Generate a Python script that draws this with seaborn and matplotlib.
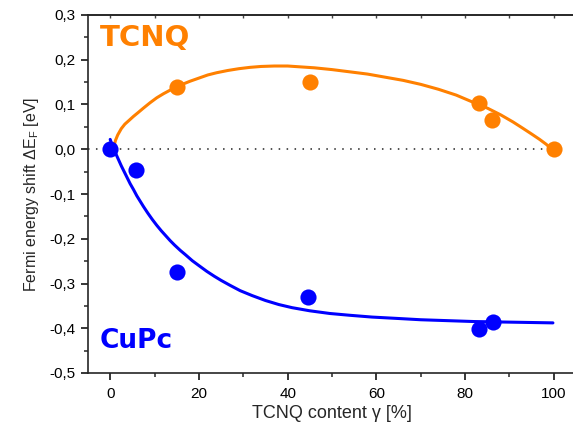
import matplotlib
matplotlib.use("Agg")
import matplotlib.pyplot as plt
import seaborn as sns
from matplotlib.ticker import FuncFormatter, MultipleLocator, NullFormatter

# measured points
tcnq_x = [15, 45, 83.2, 86.1, 100]
tcnq_y = [0.139, 0.151, 0.104, 0.065, 0.0]
cupc_x = [0, 5.8, 15, 44.7, 83.2, 86.2]
cupc_y = [0.0, -0.046, -0.275, -0.331, -0.402, -0.387]

# fit curves
tcnq_fit_x = [0.8, 1.2, 1.7, 2.5, 3.3, 4.2, 5.2, 6.3, 7.5, 9, 10.5, 12, 13.5, 15, 16.5,
              18, 20, 22, 24, 26.5, 29, 31.5, 34, 37, 40, 43, 46, 50, 54, 58, 62, 66,
              70, 74, 78, 81.8, 85, 88, 90.8, 93, 95, 96.8, 98.3, 99.5]
tcnq_fit_y = [0.005, 0.020, 0.032, 0.046, 0.056, 0.064, 0.073, 0.082, 0.092, 0.104,
              0.115, 0.124, 0.132, 0.139, 0.146, 0.152, 0.159, 0.166, 0.171, 0.176,
              0.180, 0.183, 0.185, 0.186, 0.186, 0.184, 0.182, 0.178, 0.173, 0.168,
              0.161, 0.154, 0.145, 0.134, 0.121, 0.105, 0.092, 0.077, 0.061, 0.047,
              0.034, 0.022, 0.011, 0.0]
cupc_fit_x = [0, 0.5, 1, 1.5, 2, 2.5, 3, 3.75, 4.5, 5.25, 6, 6.75, 7.5, 8.5, 9.5, 10.5,
              11.5, 12.5, 13.5, 14.5, 15.8, 17, 18.5, 20, 21.8, 23.5, 25, 27, 29.3,
              32, 35, 38, 41, 45, 49.5, 54, 59, 64.6, 70, 76, 82, 88, 94, 99.8]
cupc_fit_y = [0.022, 0.008, -0.004, -0.015, -0.026, -0.037, -0.047, -0.062, -0.077,
              -0.090, -0.104, -0.116, -0.128, -0.143, -0.157, -0.170, -0.182, -0.193,
              -0.204, -0.214, -0.226, -0.236, -0.249, -0.260, -0.273, -0.284, -0.293,
              -0.304, -0.316, -0.327, -0.338, -0.347, -0.354, -0.361, -0.367, -0.371,
              -0.375, -0.378, -0.381, -0.383, -0.385, -0.386, -0.387, -0.388]

ORANGE = '#FF8000'
BLUE = '#0000FF'

sns.set_theme(style="ticks")
plt.rcParams.update({
    'font.family': ['Liberation Sans', 'DejaVu Sans'],
    'mathtext.fontset': 'custom',
    'mathtext.rm': 'Liberation Sans',
    'mathtext.it': 'Liberation Sans',
    'axes.linewidth': 1.2,
    'lines.solid_joinstyle': 'round',
    'lines.solid_capstyle': 'round',
})

fig = plt.figure(figsize=(5.73, 4.32), dpi=100)
ax = fig.add_axes([88 / 573, 59 / 432, (576 - 88) / 573, (373 - 15) / 432])

ax.hlines(0, -5, 100, colors='#222222', linestyles=(0, (1, 4.2)), linewidth=1.1, zorder=1)

sns.lineplot(x=tcnq_fit_x, y=tcnq_fit_y, color=ORANGE, linewidth=2.2, sort=False,
             estimator=None, ax=ax, zorder=2)
sns.lineplot(x=cupc_fit_x, y=cupc_fit_y, color=BLUE, linewidth=2.2, sort=False,
             estimator=None, ax=ax, zorder=2)
sns.scatterplot(x=tcnq_x, y=tcnq_y, color=ORANGE, s=135, linewidth=0, ax=ax, zorder=3)
sns.scatterplot(x=cupc_x, y=cupc_y, color=BLUE, s=135, linewidth=0, ax=ax, zorder=3)

ax.set_xlim(-5, 105)
ax.set_ylim(-0.5, 0.3)
ax.xaxis.set_major_locator(MultipleLocator(20))
ax.xaxis.set_minor_locator(MultipleLocator(10))
ax.yaxis.set_major_locator(MultipleLocator(0.1))
ax.yaxis.set_minor_locator(MultipleLocator(0.05))
ax.yaxis.set_major_formatter(FuncFormatter(lambda v, p: f"{v:.1f}".replace('.', ',').replace('-0,0', '0,0')))

ax.tick_params(axis='both', which='major', direction='out', length=5, width=1.1,
               labelsize=11, colors='black', pad=4)
ax.tick_params(axis='both', which='minor', direction='out', length=3, width=1.1)
ax.tick_params(axis='x', which='both', pad=5)
sns.despine(ax=ax, right=True, top=False)

# small inward ticks on the top frame
top = ax.secondary_xaxis('top')
top.xaxis.set_major_locator(MultipleLocator(10))
top.xaxis.set_major_formatter(NullFormatter())
top.tick_params(axis='x', direction='in', length=2.5, width=1.0, colors='#444444')
top.spines['top'].set_linewidth(1.2)

ax.set_xlabel('TCNQ content γ [%]', fontsize=13, labelpad=3)
ax.set_ylabel(r'Fermi energy shift ΔE$_\mathregular{F}$ [eV]', fontsize=11.5, labelpad=6)

ax.text(-2.3, 0.28, 'TCNQ', color=ORANGE, fontsize=21, fontweight='bold',
        family='DejaVu Sans', ha='left', va='top')
ax.text(-2.3, -0.40, 'CuPc', color=BLUE, fontsize=19, fontweight='bold',
        family='DejaVu Sans', ha='left', va='top')

fig.savefig('out.png', dpi=100)
